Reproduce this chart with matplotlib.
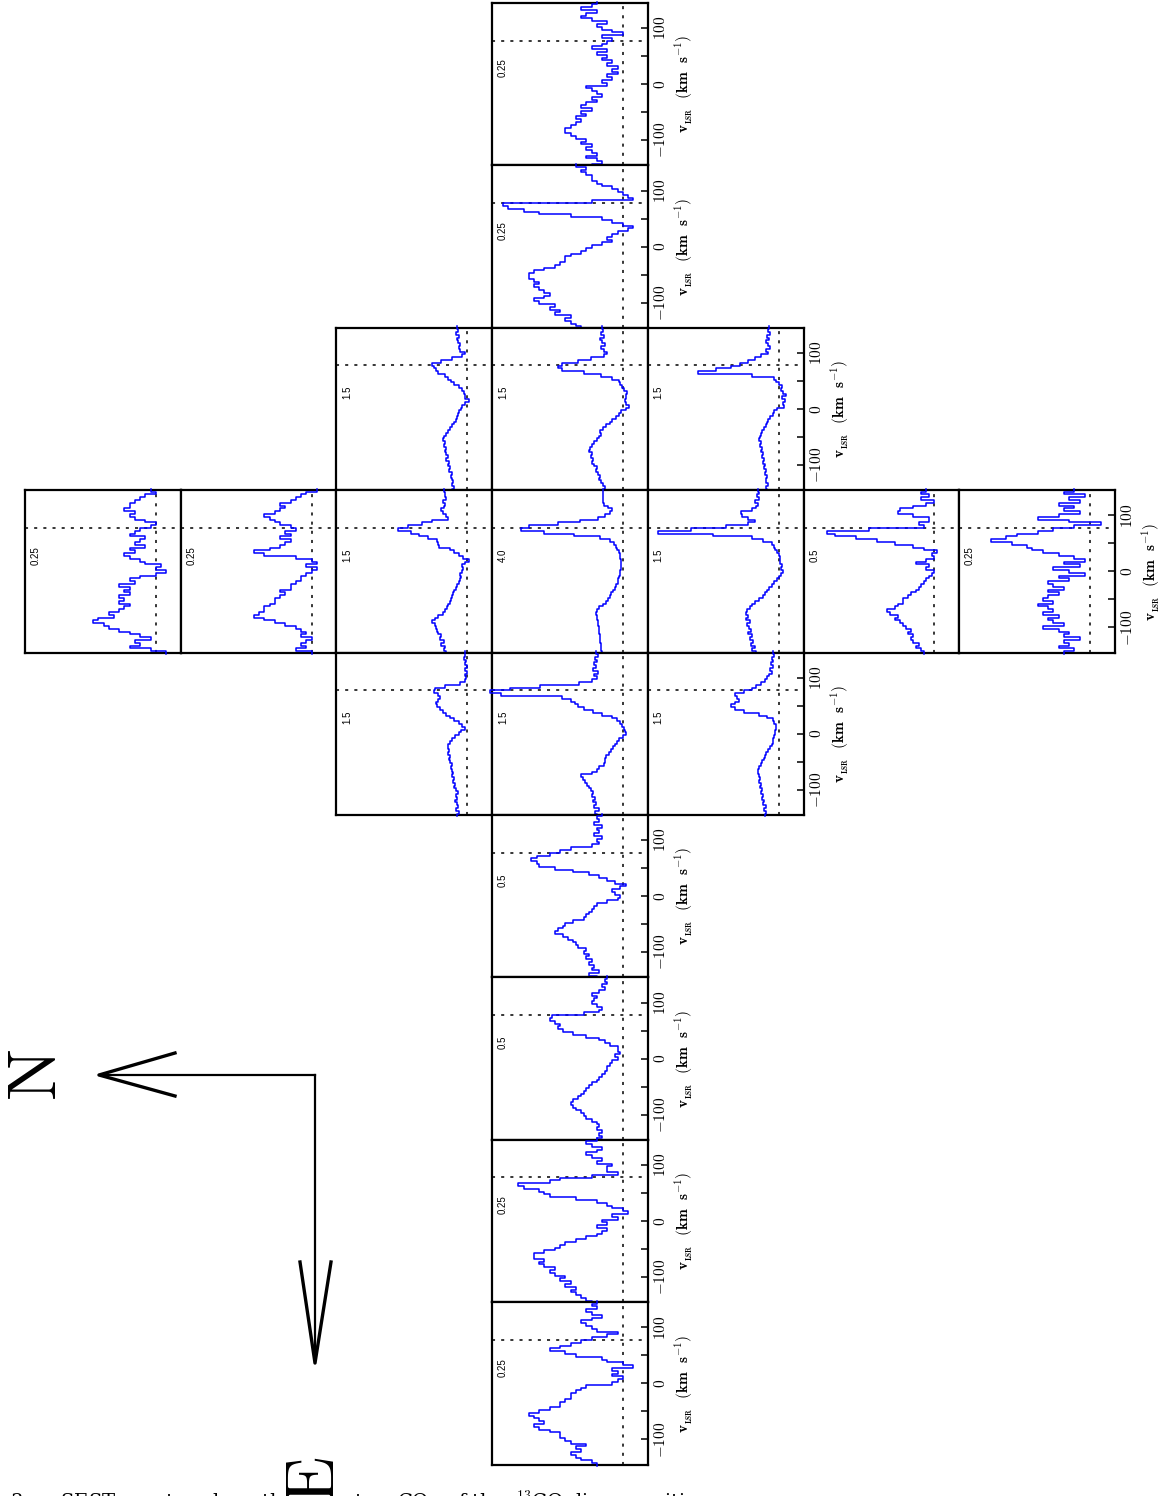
import matplotlib
matplotlib.use("Agg")
import matplotlib.pyplot as plt
from matplotlib.ticker import FixedLocator, FixedFormatter
import numpy as np

plt.rcParams["mathtext.fontset"] = "cm"

# channel centres (km/s), 5 km/s channels
vel = np.arange(-145, 150, 5)
v_ref = 78          # dotted reference velocity

# antenna temperatures (K) per position; cross centred on the nucleus
w3 = [0.06, 0.04, 0.05, 0.07, 0.05, 0.06, 0.07, 0.06, 0.08, 0.07,
      0.09, 0.10, 0.11, 0.11, 0.10, 0.09, 0.08, 0.09, 0.07, 0.08,
      0.06, 0.08, 0.07, 0.05, 0.06, 0.04, 0.05, 0.06, 0.07, 0.03,
      0.04, 0.02, 0.03, 0.01, 0.02, 0.01, 0.03, 0.02, 0.04, 0.03,
      0.05, 0.03, 0.06, 0.04, 0.03, 0.02, 0.04, 0.00, 0.02, 0.04,
      0.05, 0.03, 0.06, 0.08, 0.07, 0.05, 0.08, 0.06, 0.05]
w2 = [0.08, 0.09, 0.10, 0.11, 0.10, 0.13, 0.12, 0.14, 0.13, 0.16,
      0.17, 0.15, 0.14, 0.15, 0.16, 0.17, 0.16, 0.17, 0.18, 0.18,
      0.17, 0.15, 0.13, 0.12, 0.11, 0.11, 0.10, 0.08, 0.07, 0.06,
      0.04, 0.02, 0.03, 0.02, 0.01, -0.01, -0.02, 0.00, 0.02, 0.04,
      0.10, 0.16, 0.19, 0.22, 0.23, 0.06, -0.02, -0.01, 0.00, 0.01,
      0.02, 0.04, 0.05, 0.06, 0.06, 0.07, 0.08, 0.07, 0.09]
w1 = [0.22, 0.20, 0.23, 0.25, 0.27, 0.26, 0.29, 0.31, 0.30, 0.33,
      0.35, 0.34, 0.37, 0.36, 0.39, 0.38, 0.35, 0.33, 0.30, 0.27,
      0.25, 0.26, 0.23, 0.19, 0.15, 0.12, 0.08, 0.05, 0.02, -0.03,
      -0.07, -0.04, -0.02, -0.04, -0.03, -0.05, -0.01, 0.01, 0.03, 0.05,
      0.12, 0.25, 0.45, 0.70, 0.74, 0.70, 0.52, 0.37, 0.22, 0.18,
      0.22, 0.25, 0.21, 0.24, 0.26, 0.22, 0.25, 0.23, 0.24]
nw = [0.17, 0.15, 0.17, 0.16, 0.18, 0.19, 0.18, 0.21, 0.20, 0.22,
      0.21, 0.24, 0.22, 0.24, 0.25, 0.24, 0.27, 0.26, 0.28, 0.27,
      0.24, 0.22, 0.20, 0.17, 0.15, 0.13, 0.12, 0.11, 0.09, 0.07,
      0.06, 0.03, -0.02, 0.02, 0.03, 0.04, 0.06, 0.10, 0.15, 0.19,
      0.22, 0.26, 0.33, 0.36, 0.38, 0.40, 0.30, 0.18, 0.06, 0.03,
      0.08, 0.10, 0.08, 0.11, 0.12, 0.10, 0.13, 0.11, 0.12]
sw = [0.13, 0.15, 0.12, 0.14, 0.15, 0.13, 0.16, 0.15, 0.17, 0.16,
      0.18, 0.17, 0.19, 0.18, 0.20, 0.19, 0.21, 0.20, 0.22, 0.21,
      0.20, 0.19, 0.17, 0.15, 0.13, 0.12, 0.10, 0.07, 0.05, 0.02,
      -0.06, -0.05, -0.07, -0.04, -0.08, -0.05, -0.03, -0.04, 0.00, 0.03,
      0.05, 0.30, 0.92, 0.72, 0.55, 0.44, 0.35, 0.27, 0.20, 0.12,
      0.14, 0.10, 0.12, 0.15, 0.11, 0.13, 0.10, 0.12, 0.11]
n3 = [-0.02, 0.01, 0.05, 0.03, 0.04, 0.01, 0.03, 0.05, 0.07, 0.09,
      0.10, 0.12, 0.11, 0.08, 0.09, 0.07, 0.06, 0.05, 0.07, 0.06,
      0.07, 0.05, 0.06, 0.05, 0.07, 0.04, 0.05, 0.03, 0.00, -0.02,
      0.00, -0.01, 0.02, 0.03, 0.05, 0.06, 0.04, 0.05, 0.02, 0.04,
      0.03, 0.02, 0.05, 0.04, 0.03, 0.01, 0.00, 0.02, 0.04, 0.05,
      0.04, 0.06, 0.05, 0.05, 0.04, 0.03, 0.02, 0.00, 0.01]
n2 = [0.00, 0.03, 0.01, 0.02, 0.01, 0.00, 0.02, 0.01, 0.02, 0.03,
      0.05, 0.07, 0.09, 0.11, 0.10, 0.09, 0.09, 0.08, 0.07, 0.07,
      0.06, 0.05, 0.06, 0.04, 0.04, 0.03, 0.02, 0.02, 0.01, 0.00,
      -0.01, 0.01, -0.01, 0.00, 0.03, 0.09, 0.11, 0.08, 0.06, 0.05,
      0.04, 0.06, 0.04, 0.05, 0.03, 0.04, 0.06, 0.07, 0.08, 0.09,
      0.07, 0.06, 0.05, 0.06, 0.04, 0.03, 0.02, 0.01, -0.01]
n1 = [0.24, 0.27, 0.26, 0.30, 0.27, 0.31, 0.30, 0.33, 0.35, 0.36,
      0.37, 0.40, 0.37, 0.33, 0.28, 0.25, 0.23, 0.22, 0.20, 0.19,
      0.18, 0.16, 0.15, 0.13, 0.12, 0.10, 0.08, 0.07, 0.08, 0.06,
      0.05, 0.06, 0.02, -0.02, 0.05, 0.10, 0.15, 0.20, 0.32, 0.34,
      0.35, 0.45, 0.55, 0.65, 0.79, 0.68, 0.52, 0.40, 0.22, 0.24,
      0.28, 0.30, 0.27, 0.25, 0.28, 0.24, 0.26, 0.25, 0.27]
cen = [0.65, 0.66, 0.68, 0.68, 0.70, 0.70, 0.71, 0.72, 0.73, 0.74,
       0.75, 0.76, 0.78, 0.80, 0.81, 0.80, 0.74, 0.62, 0.52, 0.46,
       0.40, 0.35, 0.30, 0.25, 0.20, 0.16, 0.14, 0.12, 0.10, 0.08,
       0.06, 0.05, 0.05, 0.06, 0.08, 0.10, 0.13, 0.17, 0.22, 0.28,
       0.40, 0.70, 1.50, 2.40, 3.12, 2.86, 2.00, 1.30, 0.75, 0.55,
       0.40, 0.33, 0.45, 0.58, 0.60, 0.60, 0.62, 0.60, 0.62]
s1 = [0.26, 0.30, 0.27, 0.32, 0.29, 0.33, 0.31, 0.35, 0.32, 0.34,
      0.36, 0.33, 0.37, 0.35, 0.37, 0.36, 0.33, 0.30, 0.27, 0.22,
      0.18, 0.16, 0.13, 0.11, 0.08, 0.05, 0.02, 0.00, -0.03, -0.05,
      -0.03, -0.04, -0.02, -0.01, -0.02, 0.00, 0.02, 0.04, 0.05, 0.08,
      0.18, 0.30, 0.75, 1.38, 1.00, 0.60, 0.35, 0.27, 0.35, 0.42,
      0.43, 0.30, 0.26, 0.24, 0.27, 0.23, 0.25, 0.22, 0.24]
s2 = [0.04, 0.05, 0.07, 0.06, 0.08, 0.09, 0.08, 0.10, 0.09, 0.11,
      0.12, 0.13, 0.15, 0.14, 0.17, 0.18, 0.15, 0.14, 0.12, 0.12,
      0.10, 0.09, 0.07, 0.06, 0.05, 0.04, 0.03, 0.02, 0.01, 0.00,
      0.03, 0.02, 0.07, 0.03, 0.00, 0.01, -0.01, 0.04, 0.08, 0.15,
      0.22, 0.30, 0.38, 0.41, 0.25, 0.04, 0.06, 0.02, 0.02, 0.08,
      0.14, 0.13, 0.08, 0.03, 0.00, 0.05, 0.02, 0.05, 0.03]
s3 = [0.05, 0.03, 0.06, 0.04, 0.05, 0.02, 0.05, 0.04, 0.06, 0.09,
      0.05, 0.07, 0.08, 0.06, 0.09, 0.07, 0.08, 0.10, 0.07, 0.09,
      0.08, 0.06, 0.08, 0.05, 0.07, 0.08, 0.04, 0.06, 0.01, 0.04,
      0.07, 0.02, 0.05, 0.01, 0.03, 0.06, 0.09, 0.11, 0.12, 0.15,
      0.19, 0.16, 0.14, 0.10, 0.07, 0.03, -0.02, 0.04, 0.10, 0.06,
      0.02, 0.05, 0.03, 0.06, 0.02, 0.04, 0.01, 0.05, 0.03]
ne = [0.12, 0.10, 0.13, 0.11, 0.12, 0.14, 0.12, 0.13, 0.11, 0.13,
      0.15, 0.14, 0.16, 0.15, 0.17, 0.16, 0.18, 0.19, 0.18, 0.20,
      0.21, 0.20, 0.22, 0.21, 0.22, 0.22, 0.20, 0.17, 0.14, 0.10,
      0.07, 0.03, 0.06, 0.10, 0.15, 0.20, 0.24, 0.28, 0.31, 0.35,
      0.36, 0.33, 0.31, 0.34, 0.38, 0.37, 0.25, 0.08, 0.02, 0.01,
      0.03, 0.00, 0.02, 0.00, 0.03, 0.01, 0.04, 0.02, 0.03]
e1 = [0.30, 0.32, 0.28, 0.33, 0.31, 0.34, 0.32, 0.36, 0.34, 0.37,
      0.39, 0.41, 0.43, 0.46, 0.48, 0.35, 0.30, 0.27, 0.22, 0.20,
      0.21, 0.19, 0.16, 0.14, 0.11, 0.09, 0.07, 0.04, 0.00, -0.03,
      -0.02, -0.01, 0.01, 0.03, 0.07, 0.13, 0.24, 0.34, 0.45, 0.52,
      0.55, 0.60, 0.70, 1.40, 1.52, 1.30, 0.95, 0.50, 0.35, 0.30,
      0.33, 0.29, 0.34, 0.31, 0.33, 0.30, 0.32, 0.29, 0.31]
se = [0.16, 0.14, 0.17, 0.15, 0.18, 0.17, 0.19, 0.18, 0.20, 0.19,
      0.21, 0.20, 0.22, 0.21, 0.23, 0.24, 0.24, 0.22, 0.20, 0.19,
      0.17, 0.16, 0.14, 0.12, 0.10, 0.08, 0.07, 0.06, 0.05, 0.04,
      0.04, 0.03, 0.03, 0.05, 0.07, 0.13, 0.22, 0.40, 0.50, 0.55,
      0.50, 0.45, 0.48, 0.50, 0.40, 0.30, 0.26, 0.20, 0.16, 0.13,
      0.11, 0.08, 0.10, 0.07, 0.09, 0.06, 0.08, 0.05, 0.07]
e2 = [0.10, 0.13, 0.09, 0.12, 0.11, 0.13, 0.12, 0.14, 0.13, 0.15,
      0.14, 0.17, 0.18, 0.19, 0.21, 0.23, 0.26, 0.25, 0.23, 0.22,
      0.19, 0.15, 0.14, 0.13, 0.12, 0.11, 0.10, 0.06, 0.02, 0.01,
      0.03, 0.04, 0.01, -0.01, 0.03, 0.06, 0.09, 0.13, 0.19, 0.26,
      0.32, 0.33, 0.35, 0.33, 0.28, 0.24, 0.20, 0.12, 0.09, 0.10,
      0.08, 0.11, 0.09, 0.10, 0.08, 0.11, 0.09, 0.10, 0.08]
e3 = [0.10, 0.08, 0.09, 0.08, 0.10, 0.09, 0.10, 0.12, 0.14, 0.15,
      0.16, 0.18, 0.19, 0.20, 0.19, 0.17, 0.16, 0.15, 0.14, 0.13,
      0.12, 0.10, 0.09, 0.08, 0.07, 0.06, 0.06, 0.05, 0.04, 0.02,
      0.03, 0.01, 0.02, 0.02, 0.05, 0.07, 0.09, 0.14, 0.19, 0.23,
      0.25, 0.24, 0.26, 0.28, 0.27, 0.15, 0.09, 0.08, 0.10, 0.12,
      0.11, 0.10, 0.12, 0.09, 0.07, 0.08, 0.06, 0.07, 0.06]
e4 = [0.06, 0.07, 0.08, 0.09, 0.10, 0.09, 0.11, 0.10, 0.12, 0.11,
      0.13, 0.14, 0.13, 0.15, 0.16, 0.15, 0.17, 0.17, 0.15, 0.13,
      0.12, 0.11, 0.09, 0.07, 0.05, 0.04, 0.03, 0.05, 0.03, 0.04,
      0.01, 0.02, -0.01, 0.00, 0.02, 0.03, 0.05, 0.09, 0.14, 0.15,
      0.16, 0.19, 0.20, 0.14, 0.12, 0.06, 0.01, 0.03, 0.03, 0.02,
      0.05, 0.04, 0.06, 0.07, 0.05, 0.04, 0.06, 0.07, 0.05]
e5 = [0.05, 0.06, 0.08, 0.09, 0.10, 0.08, 0.09, 0.07, 0.10, 0.11,
      0.12, 0.12, 0.14, 0.16, 0.17, 0.15, 0.16, 0.17, 0.18, 0.16,
      0.14, 0.12, 0.12, 0.11, 0.10, 0.10, 0.09, 0.08, 0.07, 0.02,
      0.01, 0.00, 0.02, 0.01, 0.02, -0.02, 0.00, 0.03, 0.04, 0.09,
      0.11, 0.14, 0.12, 0.10, 0.08, 0.06, 0.03, 0.01, 0.05, 0.06,
      0.07, 0.08, 0.06, 0.04, 0.06, 0.07, 0.05, 0.06, 0.05]

# (grid row, grid column, spectrum, temperature scale, scale label)
panels = [
    (0, 3, w3, 0.25, "0.25"), (1, 3, w2, 0.25, "0.25"),
    (2, 2, nw, 1.5, "1.5"), (2, 3, w1, 1.5, "1.5"), (2, 4, sw, 1.5, "1.5"),
    (3, 0, n3, 0.25, "0.25"), (3, 1, n2, 0.25, "0.25"), (3, 2, n1, 1.5, "1.5"),
    (3, 3, cen, 4.0, "4.0"), (3, 4, s1, 1.5, "1.5"), (3, 5, s2, 0.5, "0.5"),
    (3, 6, s3, 0.25, "0.25"),
    (4, 2, ne, 1.5, "1.5"), (4, 3, e1, 1.5, "1.5"), (4, 4, se, 1.5, "1.5"),
    (5, 3, e2, 0.5, "0.5"), (6, 3, e3, 0.5, "0.5"),
    (7, 3, e4, 0.25, "0.25"), (8, 3, e5, 0.25, "0.25"),
]

W, H = 1162, 1496
fig = plt.figure(figsize=(W / 100, H / 100), dpi=100)
fig.patch.set_facecolor("white")

x0, y0, pw, ph = 25, 3, 155.7, 162.4
occupied = {(r, c) for r, c, *_ in panels}

for r, c, spec, scale, lab in panels:
    left = x0 + c * pw
    top = y0 + r * ph
    ax = fig.add_axes([left / W, 1 - (top + ph) / H, pw / W, ph / H])
    t = np.asarray(spec)
    # histogram-style trace: one vertical segment per channel
    xs = np.repeat(t, 2)
    ys = np.column_stack([vel - 2.5, vel + 2.5]).ravel()
    ax.plot(xs, ys, color="#0000ff", lw=1.1, clip_on=False, zorder=3)
    ax.axvline(0, color="black", lw=1.1, ls=(0, (2, 4)), zorder=2)
    ax.axhline(v_ref, color="black", lw=1.1, ls=(0, (2, 4)), zorder=2)
    ax.set_xlim(scale, -0.19 * scale)
    ax.set_ylim(-145, 145)
    ax.set_xticks([])
    for s in ax.spines.values():
        s.set_linewidth(1.6)
    ax.text(0.07, 0.60, lab, transform=ax.transAxes, rotation=90,
            ha="center", va="center", fontsize=7, family="Liberation Sans")
    ax.yaxis.tick_right()
    if (r, c + 1) in occupied:
        ax.set_yticks([])
        continue
    ax.yaxis.set_major_locator(FixedLocator([-100, 0, 100]))
    ax.yaxis.set_major_formatter(FixedFormatter(
        [r"$\mathbf{-100}$", r"$\mathbf{0}$", r"$\mathbf{100}$"]))
    ax.yaxis.set_minor_locator(FixedLocator([-50, 50]))
    ax.tick_params(axis="y", which="both", direction="in", length=5,
                   width=1.1, labelsize=11, pad=4)
    for tl in ax.get_yticklabels():
        tl.set_rotation(90)
        tl.set_va("center")
    ax.yaxis.set_label_position("right")
    ax.set_ylabel(r"$\mathbf{v_{_{LSR}}}$  $\mathbf{(km\ \ s^{-1})}$",
                  fontsize=11, rotation=90, labelpad=3)

# orientation arrows
ov = fig.add_axes([0, 0, 1, 1], zorder=-1)
ov.set_xlim(0, W)
ov.set_ylim(H, 0)
ov.axis("off")
ov.plot([315, 99], [1075, 1075], color="black", lw=1.6)
ov.plot([175, 99, 175], [1053, 1075, 1096], color="black", lw=2.4)
ov.plot([315, 315], [1075, 1363], color="black", lw=1.6)
ov.plot([300, 315, 331], [1262, 1363, 1262], color="black", lw=2.4)
ov.text(37, 1075, r"$\mathrm{N}$", rotation=90, ha="center", va="center",
        fontsize=50)
ov.text(315, 1480, r"$\mathrm{E}$", rotation=90, ha="center", va="center",
        fontsize=50)

# figure caption, running off the lower edge of the page
ov.text(10, 1508,
        r"3.—  SEST spectra along the      cuts;   CO   of the  $^{13}$CO  line   positions",
        fontsize=14, family="DejaVu Serif", va="baseline", ha="left")

fig.savefig("out.png", dpi=100, facecolor="white")
